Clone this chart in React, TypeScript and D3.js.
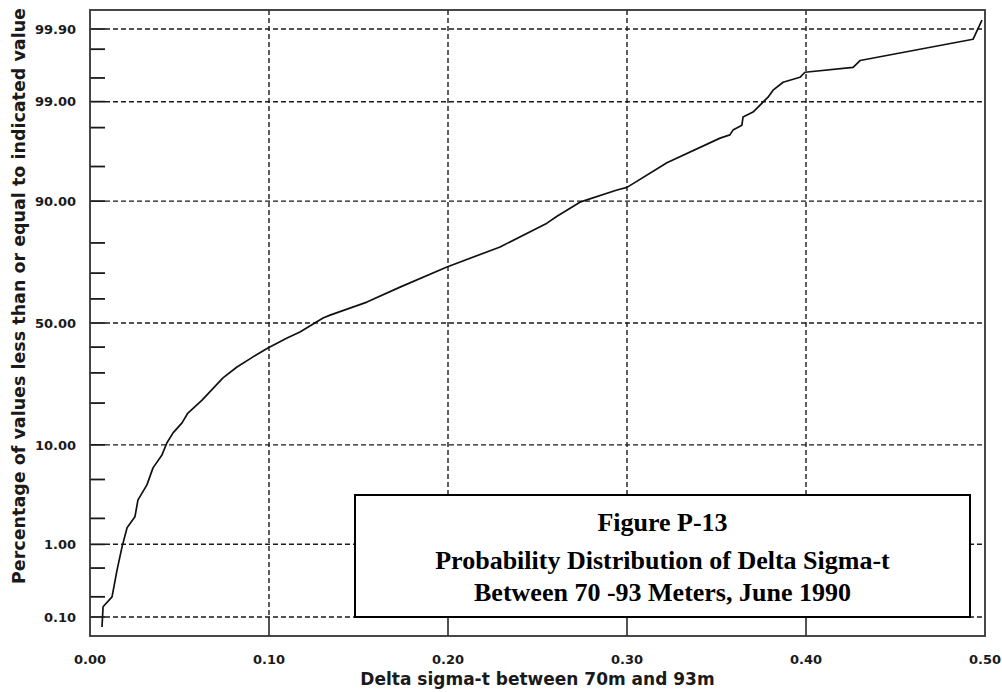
import React, { useEffect, useRef } from 'react';
import * as d3 from 'd3';

// values (delta sigma-t, cumulative percent)
const deltaSigma = [
  0.0067, 0.0073, 0.0123, 0.0151, 0.0179, 0.0207, 0.0251, 0.0268, 0.0318, 0.0352,
  0.0402, 0.043, 0.0464, 0.0514, 0.0547, 0.0626, 0.0743, 0.0821, 0.0911, 0.0994,
  0.1101, 0.1173, 0.1302, 0.1341, 0.1547, 0.1732, 0.1994, 0.2291, 0.2553, 0.2609,
  0.2737, 0.2944, 0.3, 0.3223, 0.352, 0.3575, 0.3592, 0.3642, 0.3648, 0.3704,
  0.376, 0.3788, 0.3816, 0.3872, 0.3966, 0.3994, 0.4263, 0.4302, 0.4933, 0.4983
];
const cumPercent = [
  0.07, 0.143, 0.2, 0.47, 0.93, 1.57, 2.08, 3.15, 4.44, 6.39,
  8.28, 10.4, 12.4, 14.7, 17.2, 20.9, 28.2, 32.2, 36.1, 39.6,
  43.7, 46.2, 52.1, 53.3, 58.7, 64.7, 72.2, 78.8, 85.3, 86.9,
  89.8, 91.9, 92.3, 95.4, 97.4, 97.6, 97.87, 98.12, 98.48, 98.67,
  98.99, 99.12, 99.28, 99.43, 99.51, 99.58, 99.64, 99.71, 99.857, 99.927
];

const majorTicks = [0.1, 1, 10, 50, 90, 99, 99.9];
const majorLabels = ['0.10', '1.00', '10.00', '50.00', '90.00', '99.00', '99.90'];
const minorTicks = [0.2, 0.5, 2, 5, 20, 30, 40, 60, 70, 80, 95, 98, 99.5, 99.8];
const xTicks = [0, 0.1, 0.2, 0.3, 0.4, 0.5];
const xLabels = ['0.00', '0.10', '0.20', '0.30', '0.40', '0.50'];
const titleLines = [
  'Figure P-13',
  'Probability Distribution of Delta Sigma-t',
  'Between 70 -93 Meters, June 1990'
];

// inverse normal cdf (Acklam)
const probit = (p: number) => {
  const a = [-39.69683028665376, 220.9460984245205, -275.9285104469687, 138.357751867269, -30.66479806614716, 2.506628277459239];
  const b = [-54.47609879822406, 161.5858368580409, -155.6989798598866, 66.80131188771972, -13.28068155288572];
  const c = [-0.007784894002430293, -0.3223964580411365, -2.400758277161838, -2.549732539343734, 4.374664141464968, 2.938163982698783];
  const d = [0.007784695709041462, 0.3224671290700398, 2.445134137142996, 3.754408661907416];
  const pl = 0.02425;
  if (p < pl) {
    const q = Math.sqrt(-2 * Math.log(p));
    return (((((c[0] * q + c[1]) * q + c[2]) * q + c[3]) * q + c[4]) * q + c[5]) /
      ((((d[0] * q + d[1]) * q + d[2]) * q + d[3]) * q + 1);
  }
  if (p > 1 - pl) {
    const q = Math.sqrt(-2 * Math.log(1 - p));
    return -(((((c[0] * q + c[1]) * q + c[2]) * q + c[3]) * q + c[4]) * q + c[5]) /
      ((((d[0] * q + d[1]) * q + d[2]) * q + d[3]) * q + 1);
  }
  const q = p - 0.5;
  const r = q * q;
  return (((((a[0] * r + a[1]) * r + a[2]) * r + a[3]) * r + a[4]) * r + a[5]) * q /
    (((((b[0] * r + b[1]) * r + b[2]) * r + b[3]) * r + b[4]) * r + 1);
};

const App = () => {
  const svgRef = useRef<SVGSVGElement>(null);

  useEffect(() => {
    const svg = d3.select(svgRef.current);
    svg.selectAll('*').remove();

    const left = 90, right = 985, top = 10, bottom = 636;
    const ink = '#1a1a1a';

    const x = d3.scaleLinear().domain([0, 0.5]).range([left, right]);
    const z = d3.scaleLinear().domain([-3.29, 3.29]).range([bottom, top]);
    const y = (pct: number) => z(probit(pct / 100));

    svg.append('rect').attr('width', 1002).attr('height', 692).attr('fill', '#fff');

    // horizontal dashed grid at major ticks
    svg.append('g').selectAll('line')
      .data(majorTicks)
      .enter().append('line')
      .attr('x1', left + 15).attr('x2', right)
      .attr('y1', d => y(d)).attr('y2', d => y(d))
      .attr('stroke', ink).attr('stroke-width', 1.4)
      .attr('stroke-dasharray', '5,3');

    // vertical dashed grid
    svg.append('g').selectAll('line')
      .data(xTicks.slice(1, -1))
      .enter().append('line')
      .attr('x1', d => x(d)).attr('x2', d => x(d))
      .attr('y1', top).attr('y2', bottom - 19)
      .attr('stroke', ink).attr('stroke-width', 1.4)
      .attr('stroke-dasharray', '5,3');

    // bottom x ticks (solid, inside)
    svg.append('g').selectAll('line')
      .data(xTicks.slice(1, -1))
      .enter().append('line')
      .attr('x1', d => x(d)).attr('x2', d => x(d))
      .attr('y1', bottom - 19).attr('y2', bottom)
      .attr('stroke', ink).attr('stroke-width', 1.5);

    // y ticks, major and minor, inside the left axis
    svg.append('g').selectAll('line')
      .data(majorTicks.concat(minorTicks))
      .enter().append('line')
      .attr('x1', left).attr('x2', left + 15)
      .attr('y1', d => y(d)).attr('y2', d => y(d))
      .attr('stroke', ink).attr('stroke-width', 1.8);

    // frame
    svg.append('rect')
      .attr('x', left).attr('y', top)
      .attr('width', right - left).attr('height', bottom - top)
      .attr('fill', 'none').attr('stroke', '#333').attr('stroke-width', 1.8);

    // curve
    const pts: [number, number][] = deltaSigma.map((v, i) => [v, cumPercent[i]]);
    const line = d3.line<[number, number]>()
      .x(d => x(d[0]))
      .y(d => y(d[1]));
    svg.append('path')
      .datum(pts)
      .attr('d', line)
      .attr('fill', 'none')
      .attr('stroke', '#111')
      .attr('stroke-width', 1.7)
      .attr('stroke-linejoin', 'round');

    // y tick labels
    svg.append('g').selectAll('text')
      .data(majorTicks)
      .enter().append('text')
      .attr('x', 76).attr('y', d => y(d))
      .attr('dy', '0.36em')
      .attr('text-anchor', 'end')
      .style('font-family', 'DejaVu Sans')
      .style('font-weight', 'bold')
      .style('font-size', '13px')
      .attr('fill', ink)
      .text((d, i) => majorLabels[i]);

    // x tick labels
    svg.append('g').selectAll('text')
      .data(xTicks)
      .enter().append('text')
      .attr('x', d => x(d)).attr('y', 664)
      .attr('text-anchor', 'middle')
      .style('font-family', 'DejaVu Sans')
      .style('font-weight', 'bold')
      .style('font-size', '13px')
      .attr('fill', ink)
      .text((d, i) => xLabels[i]);

    // axis titles
    svg.append('text')
      .attr('x', (left + right) / 2).attr('y', 685)
      .attr('text-anchor', 'middle')
      .style('font-family', 'DejaVu Sans')
      .style('font-weight', 'bold')
      .style('font-size', '17px')
      .attr('fill', ink)
      .text('Delta sigma-t between 70m and 93m');

    svg.append('text')
      .attr('transform', 'translate(25,296) rotate(-90)')
      .attr('text-anchor', 'middle')
      .style('font-family', 'DejaVu Sans')
      .style('font-weight', 'bold')
      .style('font-size', '17.5px')
      .attr('fill', ink)
      .text('Percentage of values less than or equal to indicated value');

    // caption box
    const bx0 = 355, bx1 = 970, by0 = 495, by1 = 617;
    svg.append('rect')
      .attr('x', bx0).attr('y', by0)
      .attr('width', bx1 - bx0).attr('height', by1 - by0)
      .attr('fill', '#fff').attr('stroke', '#000').attr('stroke-width', 2);

    const cx = (bx0 + bx1) / 2;
    const baselines = [531, 569, 601];
    svg.append('g').selectAll('text')
      .data(titleLines)
      .enter().append('text')
      .attr('x', cx)
      .attr('y', (d, i) => baselines[i])
      .attr('text-anchor', 'middle')
      .style('font-family', '"Liberation Serif", "Times New Roman", serif')
      .style('font-weight', 'bold')
      .style('font-size', '26px')
      .attr('fill', '#000')
      .text(d => d);
  }, []);

  return (
    <svg
      ref={svgRef}
      width={1002}
      height={692}
      style={{ position: 'absolute', left: 0, top: 0, display: 'block' }}
    />
  );
};

export default App;
